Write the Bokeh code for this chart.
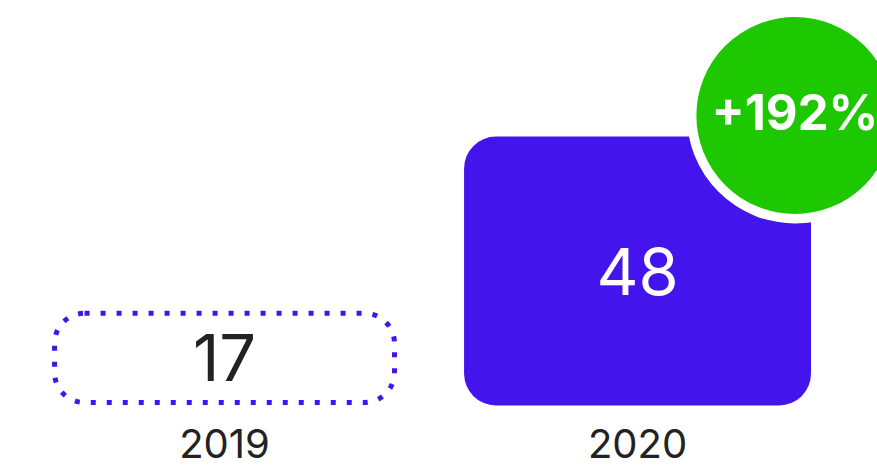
from bokeh.plotting import figure
from bokeh.models import Range1d
from bokeh.core.properties import value
from bokeh.embed import file_html
from bokeh.resources import INLINE

# ---- data ----
years = ["2019", "2020"]
counts = [17, 48]
change_label = ["+192%"]

# ---- style ----
PURPLE = "#4314EC"
GREEN = "#1DC800"
DARK = "#222222"
FONT = "Inter"

xs = list(range(len(years)))

W, H = 877, 468
PX_PER_UNIT = 5.604
y_start = -63 / PX_PER_UNIT
y_end = 405 / PX_PER_UNIT

p = figure(frame_width=W, frame_height=H, min_border=0,
           x_range=Range1d(-0.5424, 1.581), y_range=Range1d(y_start, y_end),
           output_backend="svg", toolbar_location=None)
p.xaxis.visible = False
p.yaxis.visible = False

# 2019: dotted outline bar (stroke kept inside the bar area)
lw = 5
inset = 3 / PX_PER_UNIT
p.vbar(x=[xs[0]], top=[counts[0] - inset], bottom=inset, width=0.823,
       fill_color=None, line_color=PURPLE, line_width=lw, line_dash="5 11",
       border_radius=30)

# 2020: filled bar
p.vbar(x=[xs[1]], top=[counts[1]], bottom=0, width=0.84,
       fill_color=PURPLE, line_color=None, border_radius=32)

# badge anchored to the 2020 bar
bx = xs[1] + 0.381
by = counts[1] + 3.75
p.scatter(x=[bx], y=[by], marker="circle", size=206.5,
          fill_color=GREEN, line_color="white", line_width=9.5)
p.text(x=[bx], y=[by + 0.6], text=change_label, text_color="white",
       text_font=value(FONT), text_font_size="49px", text_font_style="bold",
       text_align="center", text_baseline="middle")

# value labels
p.text(x=xs, y=[c / 2 for c in counts], text=[str(c) for c in counts],
       text_color=[DARK, "white"], text_font=value(FONT), text_font_size="65px",
       text_align="center", text_baseline="middle")

# category labels under the bars
p.text(x=xs, y=[-37.5 / PX_PER_UNIT] * len(xs), text=years,
       text_color=DARK, text_font=value(FONT), text_font_size="40px",
       text_align="center", text_baseline="middle")

p.grid.visible = False
p.outline_line_color = None
p.background_fill_color = "white"
p.border_fill_color = "white"

open("out.html", "w").write(file_html(p, INLINE))
